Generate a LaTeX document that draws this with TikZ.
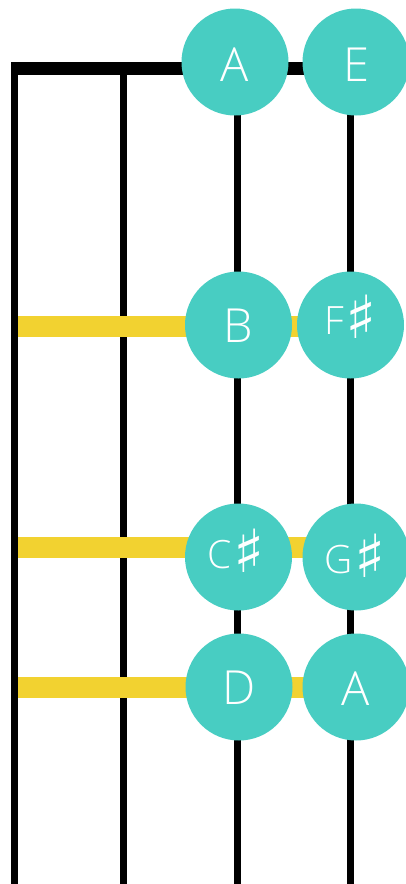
\documentclass[tikz,border=0pt]{standalone}
\usepackage{fontspec}
\setmainfont{Open Sans Light}
\newfontfamily\symfont{DejaVu Sans}
\definecolor{teal}{RGB}{72,205,194}
\definecolor{fretyellow}{RGB}{242,210,48}
\newcommand{\shp}{\hspace{2pt}\smash{\raisebox{-4pt}{\symfont\fontsize{34}{34}\selectfont\scalebox{1.9}[1.75]{♯}}}}
\newcommand{\liftby}[2]{\raisebox{#1}[\height][\depth]{#2}}
\begin{document}
\begin{tikzpicture}[x=1pt,y=-1pt,
  stringline/.style={line width=7pt},
  fretline/.style={line width=21pt,fretyellow},
  note/.style={circle,fill=teal,minimum size=107pt,inner sep=0pt,text=white,font=\fontsize{47}{47}\selectfont},
  sharpnote/.style={note,font=\fontsize{39}{39}\selectfont}]
\useasboundingbox (0,0) rectangle (405,884);
% coordinates
\coordinate (s1t) at (14.5,62); \coordinate (s1b) at (14.5,884);
\coordinate (s2t) at (123.5,70); \coordinate (s2b) at (123.5,884);
\coordinate (s3t) at (237,70); \coordinate (s3b) at (237,884);
\coordinate (s4t) at (350.5,70); \coordinate (s4b) at (350.5,884);
\coordinate (nutl) at (11,68.5); \coordinate (nutr) at (352,68.5);
\coordinate (f1l) at (18,326); \coordinate (f1r) at (350,326);
\coordinate (f2l) at (18,547.5); \coordinate (f2r) at (350,547.5);
\coordinate (f3l) at (18,687.5); \coordinate (f3r) at (350,687.5);
% strings and nut
\draw[stringline] (s1t) -- (s1b);
\draw[stringline] (s2t) -- (s2b);
\draw[stringline] (s3t) -- (s3b);
\draw[stringline] (s4t) -- (s4b);
\draw[line width=13pt] (nutl) -- (nutr);
% frets
\draw[fretline] (f1l) -- (f1r);
\draw[fretline] (f2l) -- (f2r);
\draw[fretline] (f3l) -- (f3r);
% notes
\node[note] (nA) at (235,62) {\liftby{-3pt}{A}};
\node[note] (nE) at (356,62) {\liftby{-3pt}{E}};
\node[note] (nB) at (238.5,325) {\liftby{-1pt}{B}};
\node[sharpnote] (nFs) at (350.5,325) {\liftby{4pt}{F\shp}};
\node[sharpnote] (nCs) at (238.5,557) {\liftby{2pt}{\hspace{-4pt}C\shp}};
\node[sharpnote] (nGs) at (356,557) {\liftby{-3pt}{\hspace{-2pt}G\shp}};
\node[note] (nD) at (239,687) {\liftby{-1pt}{D}};
\node[note] (nA2) at (356,687) {\liftby{-2pt}{A}};
\end{tikzpicture}
\end{document}
